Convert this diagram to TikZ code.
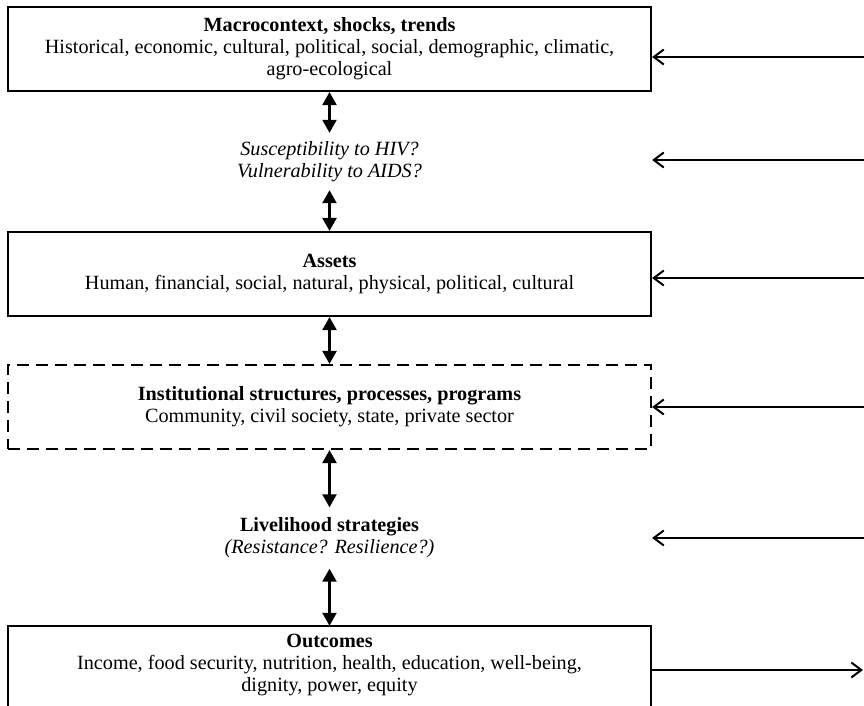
\documentclass[tikz,border=0pt]{standalone}
\usepackage{fontspec}
\setmainfont{Liberation Serif}
\usetikzlibrary{arrows.meta}

\tikzset{
  box/.style={draw, line width=2.2pt, minimum width=643pt, minimum height=84pt,
    align=center, inner sep=0pt},
  dashbox/.style={box, dash pattern=on 12pt off 7pt},
  midtext/.style={align=center, inner sep=0pt},
  biarrow/.style={{Triangle[length=13pt,width=14pt]}-{Triangle[length=13pt,width=14pt]},
    line width=2.4pt},
  inarrow/.style={-{Straight Barb[length=10pt,width=15pt]}, line width=2pt},
}

\begin{document}
\begin{tikzpicture}[x=1pt, y=-1pt, font=\fontsize{20.2}{22}\selectfont]
    \useasboundingbox (0,0) rectangle (864,705);

    % riquadri principali
    \node[box] (macro) at (329.5,49) {\textbf{Macrocontext, shocks, trends}\\
        Historical, economic, cultural, political, social, demographic, climatic,\\
        agro-ecological};
    \node[midtext, minimum height=57pt] (susc) at (329.5,161.5)
        {\textit{Susceptibility to HIV?}\\ \textit{Vulnerability to AIDS?}};
    \node[box] (assets) at (329.5,274) {\textbf{Assets}\\
        Human, financial, social, natural, physical, political, cultural};
    \node[dashbox] (inst) at (329.5,407) {\textbf{Institutional structures, processes, programs}\\
        Community, civil society, state, private sector};
    \node[midtext, minimum height=61pt] (live) at (329.5,538)
        {\textbf{Livelihood strategies}\\ \textit{(Resistance? Resilience?)}};
    \node[midtext, minimum width=643pt, minimum height=78pt] (outcomes) at (329.5,665)
        {\textbf{Outcomes}\\
        Income, food security, nutrition, health, education, well-being,\\
        dignity, power, equity};
    \draw[line width=2.2pt] (outcomes.south west) ++(0,12) |- (outcomes.north east) -- ++(0,90);

    % frecce verticali
    \draw[biarrow] (macro.south) -- (susc.north);
    \draw[biarrow] (susc.south) -- (assets.north);
    \draw[biarrow] (assets.south) -- (inst.north);
    \draw[biarrow] (inst.south) -- (live.north);
    \draw[biarrow] (live.south) -- (outcomes.north);

    % frecce laterali
    \coordinate (macro-in) at (864,57);
    \coordinate (susc-in) at (864,160);
    \coordinate (assets-in) at (864,278);
    \coordinate (inst-in) at (864,407);
    \coordinate (live-in) at (864,538);
    \coordinate (out-end) at (863,670);
    \draw[inarrow] (macro-in) -- (macro.east |- macro-in);
    \draw[inarrow] (susc-in) -- (macro.east |- susc-in);
    \draw[inarrow] (assets-in) -- (assets.east |- assets-in);
    \draw[inarrow] (inst-in) -- (inst.east |- inst-in);
    \draw[inarrow] (live-in) -- (inst.east |- live-in);
    \draw[inarrow] (outcomes.east |- out-end) -- (out-end);
\end{tikzpicture}
\end{document}
